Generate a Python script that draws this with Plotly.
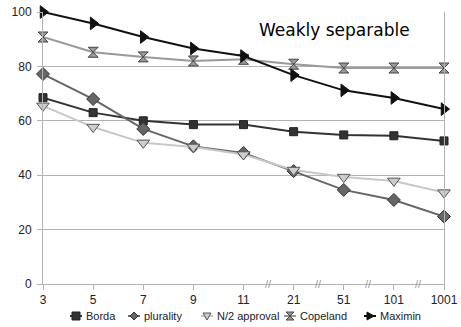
import plotly.graph_objects as go

categories = ["3", "5", "7", "9", "11", "21", "51", "101", "1001"]
borda = [68.5, 63.0, 60.0, 58.6, 58.6, 56.0, 54.8, 54.5, 52.6]
plurality = [77.2, 68.0, 57.0, 50.6, 48.2, 41.5, 34.6, 30.9, 24.8]
approval = [65.5, 57.7, 51.9, 50.4, 47.6, 41.9, 39.3, 37.9, 33.6]
copeland = [90.8, 85.2, 83.5, 82.0, 82.6, 80.8, 79.4, 79.4, 79.4]
maximin = [100.0, 95.8, 90.8, 86.6, 83.8, 76.8, 71.2, 68.4, 64.3]
break_positions = [4.5, 5.5, 6.5, 7.5]

# layout geometry (pixels)
W, H = 461, 327
L, R, T, B = 43, 17, 12, 43
PW, PH = W - L - R, H - T - B

series = [
    ("Borda", borda, "#333333", dict(symbol="square", size=8, color="#333333", line=dict(color="#222222", width=1)),
     "M-4,-4H4V4H-4Z", "#333333", "#222222", 70),
    ("plurality", plurality, "#666666", dict(symbol="diamond", size=10, color="#666666", line=dict(color="#333333", width=1)),
     "M0,-4L4,0L0,4L-4,0Z", "#666666", "#333333", 128),
    ("N/2 approval", approval, "#c8c8c8", dict(symbol="triangle-down", size=11, color="#cccccc", line=dict(color="#555555", width=1)),
     "M-4,3L4,3L0,-4Z", "#cccccc", "#555555", 201),
    ("Copeland", copeland, "#999999", dict(symbol="hourglass", size=10, color="#999999", line=dict(color="#444444", width=1)),
     "M-4,-4L4,-4L-4,4L4,4Z", "#999999", "#444444", 284),
    ("Maximin", maximin, "#111111", dict(symbol="triangle-right", size=11, color="#111111", line=dict(color="#111111", width=1)),
     "M-3,-4L4,0L-3,4Z", "#111111", "#111111", 364),
]

fig = go.Figure()
for name, vals, col, mk, _, _, _, _ in series:
    fig.add_trace(go.Scatter(x=categories, y=vals, name=name, mode="lines+markers",
                             line=dict(color=col, width=2), marker=mk, cliponaxis=False,
                             showlegend=False))

def px_x(px):
    return (px - L) / PW

def px_y(py):
    return (H - B - py) / PH

# custom legend (one row, below the axis)
leg_y = px_y(316)
for name, _, col, _, path, fill, edge, sx in series:
    fig.add_shape(type="line", xref="paper", yref="paper", x0=px_x(sx), x1=px_x(sx + 12),
                  y0=leg_y, y1=leg_y, line=dict(color=col, width=2))
    fig.add_shape(type="path", xref="paper", yref="paper", xsizemode="pixel", ysizemode="pixel",
                  xanchor=px_x(sx + 6), yanchor=leg_y, path=path,
                  fillcolor=fill, line=dict(color=edge, width=1))
    fig.add_annotation(x=px_x(sx + 14), y=leg_y, xref="paper", yref="paper", text=name,
                       showarrow=False, xanchor="left", yanchor="middle",
                       font=dict(family="Liberation Sans", size=11, color="#222222"))

for bp in break_positions:
    fig.add_annotation(x=bp, y=0, xref="x", yref="y", text="//", showarrow=False,
                       font=dict(family="Liberation Sans", size=11, color="#999999"))

fig.add_annotation(x=px_x(412), y=px_y(30), xref="paper", yref="paper",
                   text="Weakly separable", showarrow=False, xanchor="right", yanchor="middle",
                   font=dict(family="DejaVu Sans", size=17, color="#000000"))

fig.update_layout(
    width=W, height=H,
    margin=dict(l=L, r=R, t=T, b=B, autoexpand=False),
    paper_bgcolor="white", plot_bgcolor="white",
    font=dict(family="Liberation Sans", size=12, color="#222222"),
    showlegend=False,
)
fig.update_xaxes(type="category", range=[0, 8], showgrid=False, showline=True,
                 linecolor="#b3b3b3", linewidth=1, ticks="outside", ticklen=5,
                 tickcolor="#b3b3b3", zeroline=False, tickfont=dict(size=12))
fig.update_yaxes(range=[0, 100], dtick=20, showgrid=True, gridcolor="#b3b3b3",
                 showline=True, mirror=True, linecolor="#b3b3b3", linewidth=1,
                 ticks="outside", ticklen=5, tickcolor="#b3b3b3", zeroline=False,
                 ticklabelstandoff=3, tickfont=dict(size=12))

fig.write_html("out.html", config={"displayModeBar": False},
               post_script="document.body.style.margin='0';")
